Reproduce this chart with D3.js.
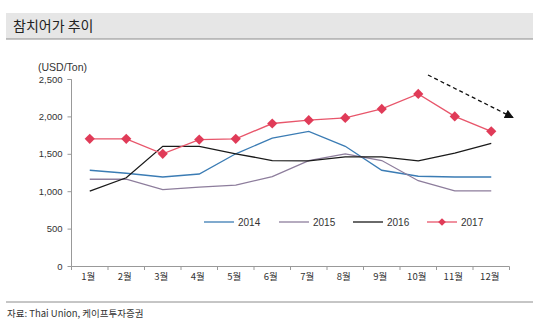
<!DOCTYPE html>
<html><head><meta charset="utf-8">
<script src="https://cdn.jsdelivr.net/npm/d3@7"></script>
<style>body{margin:0;background:#fff}svg{display:block}</style>
</head><body>
<svg id="c" width="540" height="325"></svg>
<script>
const months = ["1월","2월","3월","4월","5월","6월","7월","8월","9월","10월","11월","12월"];
const s2014 = [1280,1240,1190,1230,1500,1710,1800,1600,1280,1200,1190,1190];
const s2015 = [1160,1160,1020,1055,1080,1195,1410,1500,1410,1140,1005,1005];
const s2016 = [1000,1180,1600,1600,1500,1410,1405,1460,1460,1405,1510,1640];
const s2017 = [1700,1700,1500,1690,1700,1905,1950,1980,2100,2300,2000,1800];
const yTicks = [0,500,1000,1500,2000,2500];
const seriesNames = ["2014","2015","2016","2017"];
const seriesColors = ["#3b7cb4","#8d7d9c","#1a1a1a","#e8566b"];
const seriesData = [s2014,s2015,s2016,s2017];

const svg = d3.select("#c");
const font = "'Liberation Sans', Arial, sans-serif";
const kfont = "'Noto Sans CJK KR', sans-serif";

// title band
svg.append("rect").attr("x",6).attr("y",13).attr("width",527).attr("height",26).attr("fill","#e6e6e6");
svg.append("line").attr("x1",6).attr("x2",533).attr("y1",39).attr("y2",39).attr("stroke","#8c8c8c").attr("stroke-width",1.2);
svg.append("text").attr("x",13).attr("y",31).attr("font-family",kfont).attr("font-size",14).attr("fill","#222").text("참치어가 추이");

const x = d3.scaleBand().domain(months).range([71.5,509.5]);
const y = d3.scaleLinear().domain([0,2500]).range([266,79]);

// y axis
const ya = svg.append("g").attr("transform","translate(71.5,0)")
  .call(d3.axisLeft(y).tickValues(yTicks).tickSize(4).tickPadding(5).tickFormat(d3.format(",")));
ya.select(".domain").attr("stroke","#999").attr("d","M-4,79.5H0V266.5");
ya.selectAll(".tick line").attr("stroke","#999");
ya.selectAll("text").attr("font-family",font).attr("font-size",9.5).attr("fill","#333");

// x axis
const xa = svg.append("g").attr("transform","translate(0,266.5)")
  .call(d3.axisBottom(x).tickSize(0).tickPadding(7));
xa.select(".domain").attr("stroke","#999").attr("d","M71.5,0H509.5");
xa.selectAll("text").attr("font-family",kfont).attr("font-size",9.5).attr("fill","#333").attr("dx",-1.5);
const edges = months.map(m => x(m)).concat([x.range()[1]]);
svg.append("g").selectAll("line").data(edges).join("line")
  .attr("x1",d=>d).attr("x2",d=>d).attr("y1",266.5).attr("y2",270).attr("stroke","#999");

svg.append("text").attr("x",38).attr("y",71).attr("font-family",font).attr("font-size",10.5).attr("fill","#333").text("(USD/Ton)");

const line = d3.line().x((d,i)=>x(months[i])+x.bandwidth()/2).y(d=>y(d));
seriesData.forEach((s,k)=>{
  svg.append("path").datum(s).attr("d",line).attr("fill","none")
    .attr("stroke",seriesColors[k]).attr("stroke-width",k===3?1.4:1.3);
});
// markers 2017
svg.append("g").selectAll("path").data(s2017).join("path")
  .attr("transform",(d,i)=>`translate(${x(months[i])+x.bandwidth()/2},${y(d)}) rotate(45)`)
  .attr("d",d3.symbol().type(d3.symbolSquare).size(52)).attr("fill","#e03b58");

// legend
const legX = [204,279,353,427];
seriesNames.forEach((n,k)=>{
  const g = svg.append("g");
  g.append("line").attr("x1",legX[k]).attr("x2",legX[k]+30).attr("y1",222).attr("y2",222)
    .attr("stroke",seriesColors[k]).attr("stroke-width",1.3);
  if(k===3) g.append("path").attr("transform",`translate(${legX[k]+15},222) rotate(45)`)
    .attr("d",d3.symbol().type(d3.symbolSquare).size(30)).attr("fill","#e03b58");
  g.append("text").attr("x",legX[k]+34).attr("y",225.5).attr("font-family",font).attr("font-size",10).attr("fill","#333").text(n);
});

// dashed arrow
svg.append("defs").append("marker").attr("id","ah").attr("viewBox","0 0 10 10").attr("refX",9).attr("refY",5)
  .attr("markerWidth",9).attr("markerHeight",9).attr("markerUnits","userSpaceOnUse").attr("orient","auto")
  .append("path").attr("d","M0,0L10,5L0,10Z").attr("fill","#111");
svg.append("line").attr("x1",428).attr("y1",75).attr("x2",513).attr("y2",117.5)
  .attr("stroke","#111").attr("stroke-width",1.3).attr("stroke-dasharray","4,3").attr("marker-end","url(#ah)");

// source
svg.append("line").attr("x1",6).attr("x2",533).attr("y1",302).attr("y2",302).attr("stroke","#8c8c8c").attr("stroke-width",1);
svg.append("text").attr("x",7).attr("y",317).attr("font-family",kfont).attr("font-size",9.5).attr("fill","#333").text("자료: Thai Union, 케이프투자증권");
</script>
</body></html>
